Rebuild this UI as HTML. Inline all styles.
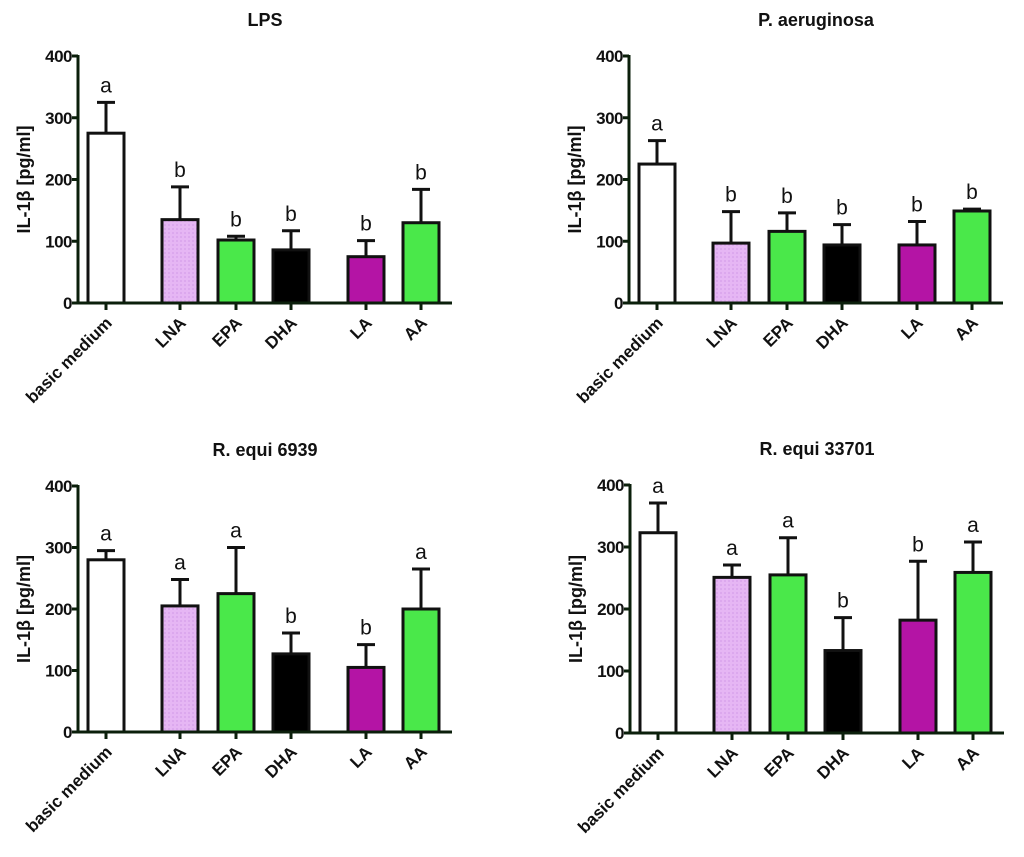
<!DOCTYPE html>
<html><head><meta charset="utf-8"><style>
body{margin:0;background:#fff;width:1024px;height:857px;overflow:hidden}
svg{display:block}
text{font-family:"Liberation Sans",sans-serif;font-weight:bold;fill:#111}
</style></head><body>
<svg id="chart" width="1024" height="857"></svg>
<script>
const categories=["basic medium","LNA","EPA","DHA","LA","AA"];
const titles=["LPS","P. aeruginosa","R. equi 6939","R. equi 33701"];
const meansLPS=[275,135,102,86,75,130];
const errLPS=[50,53,6,31,26,54];
const lettersLPS=["a","b","b","b","b","b"];
const meansPA=[225,97,116,94,94,149];
const errPA=[38,51,30,33,38,3];
const lettersPA=["a","b","b","b","b","b"];
const means6939=[280,205,225,127,105,200];
const err6939=[15,43,75,34,37,65];
const letters6939=["a","a","a","b","b","a"];
const means33701=[323,251,255,133,182,259];
const err33701=[48,20,60,53,95,49];
const letters33701=["a","a","a","b","b","a"];
const yTicks=[0,100,200,300,400];
const fills=["#ffffff","url(#lna)","#4ae84a","#000000","#b414a5","#4ae84a"];
const slot=[28,102,158,213,288,343];
const NS="http://www.w3.org/2000/svg";
const svg=document.getElementById('chart');
function mk(t,a,p){const e=document.createElementNS(NS,t);for(const k in a)e.setAttribute(k,a[k]);(p||svg).appendChild(e);return e;}
const defs=mk('defs',{});
const pat=mk('pattern',{id:'lna',width:4,height:4,patternUnits:'userSpaceOnUse'},defs);
mk('rect',{width:4,height:4,fill:'#e6b6f4'},pat);
mk('rect',{width:2,height:2,fill:'#dca8ee'},pat);
const panels=[
 {ax:78,y0:303,y4:56,m:meansLPS,e:errLPS,l:lettersLPS},
 {ax:629,y0:303,y4:56,m:meansPA,e:errPA,l:lettersPA},
 {ax:78,y0:732,y4:486,m:means6939,e:err6939,l:letters6939},
 {ax:630,y0:733,y4:485,m:means33701,e:err33701,l:letters33701}];
panels.forEach((p,pi)=>{
 const g=mk('g',{});
 
 
 const y=v=>p.y0+(p.y4-p.y0)*v/400;
 const x=i=>p.ax+slot[i];
 const t=mk('text',{x:p.ax+187,y:p.y4-30,'text-anchor':'middle','font-size':18},g);t.textContent=titles[pi];
 
 
 const yl=mk('text',{x:0,y:0,'text-anchor':'middle','font-size':18,transform:`translate(${p.ax-48},${(p.y0+p.y4)/2}) rotate(-90)`},g);
 yl.textContent="IL-1β [pg/ml]";
 
 
 categories.forEach((c,i)=>{
  const cx=x(i),top=y(p.m[i]),et=y(p.m[i]+p.e[i]);
  const er=mk('path',{d:`M${cx},${top} V${et} M${cx-9},${et} H${cx+9}`,stroke:'#111',"stroke-width":3,fill:'none'},g);
  
  
  const b=mk('rect',{x:cx-18,y:top,width:36,height:p.y0-top,fill:fills[i],stroke:'#111',"stroke-width":3},g);
  
  
  const lt=mk('text',{x:cx,y:et-10,'text-anchor':'middle','font-size':21,style:'font-weight:normal'},g);
  lt.textContent=p.l[i];
  
  
  mk('line',{x1:cx,x2:cx,y1:p.y0,y2:p.y0+7,stroke:'#0b1f0b',"stroke-width":3},g);
  const cl=mk('text',{x:0,y:0,'text-anchor':'end','font-size':17,transform:`translate(${cx+7},${p.y0+21}) rotate(-45)`},g);
  cl.textContent=c;
  
  
 });
 yTicks.forEach(v=>{
  mk('line',{x1:p.ax-6,x2:p.ax,y1:y(v),y2:y(v),stroke:'#0b1f0b',"stroke-width":3},g);
  const tl=mk('text',{x:p.ax-6,y:y(v)+6,'text-anchor':'end','font-size':17,'letter-spacing':'-0.5'},g);tl.textContent=v;
  
  
 });
 mk('line',{x1:p.ax,x2:p.ax,y1:p.y4-1,y2:p.y0+1,stroke:'#0b1f0b',"stroke-width":3},g);
 mk('line',{x1:p.ax-1,x2:p.ax+374,y1:p.y0,y2:p.y0,stroke:'#0b1f0b',"stroke-width":3},g);
});
</script>
</body></html>
